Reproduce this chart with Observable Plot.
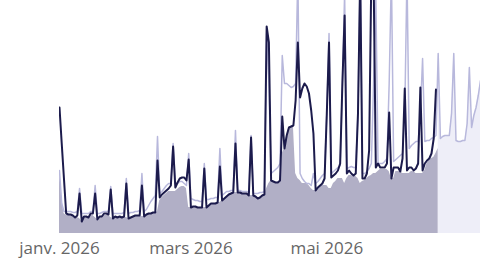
<!DOCTYPE html>
<html><head><meta charset="utf-8">
<script src="https://cdn.jsdelivr.net/npm/d3@7"></script>
<script src="https://cdn.jsdelivr.net/npm/@observablehq/plot@0.6"></script>
<style>body{margin:0;background:#fff}</style>
</head><body><div id="chart"></div>
<script>
const startDate = "2026-01-01";
const lastActualIndex = 170;
// daily values, current period (dark line)
const current = [126,90,55,20,19,19,18,16,18,
40,12,17,17,16,20,20,
40,14,17,17,20,20,19,
44,15,17,16,17,16,17,
50,15,16,17,18,18,18,
48,17,19,20,20,21,21,
73,36,39,41,43,45,48,
87,46,51,55,56,56,53,
74,26,27,27,26,26,26,
65,26,28,30,30,30,31,
67,33,35,37,39,40,41,
90,41,41,40,40,40,38,
96,38,37,35,36,38,39,
207,191,53,52,51,51,53,
117,85,98,106,107,108,133,
191,136,145,150,147,140,123,
100,43,46,48,50,55,120,
191,56,58,60,63,70,150,
218,60,63,60,58,60,120,
260,55,55,60,83,260,260,
66,70,66,66,66,70,
121,55,66,66,66,62,75,
145,63,66,66,63,65,70,
146,63,70,73,75,80,95,
144];
// daily values, comparison period (light line)
const previous = [63,30,22,22,22,22,21,21,22,
45,20,20,20,20,22,22,
48,20,20,21,22,22,22,
47,20,20,20,20,20,21,
55,20,21,21,22,22,23,
60,22,24,28,32,35,38,
97,40,42,45,48,50,50,
90,50,50,52,52,50,48,
80,35,34,33,33,32,32,
70,34,34,35,35,36,36,
85,38,40,42,42,43,43,
103,43,43,42,42,42,41,
98,40,40,40,41,41,42,
200,150,60,62,64,66,70,
178,150,150,148,146,147,150,
260,60,55,52,50,50,48,
60,50,52,55,58,60,120,
200,60,62,64,66,68,150,
240,65,66,67,66,66,120,
260,60,60,62,65,70,150,
240,70,70,70,72,75,150,
260,72,74,76,78,80,120,
260,85,88,90,92,92,120,
175,92,93,93,95,96,98,
180,95,97,98,98,98,120,
180,93,92,92,93,93,110,
166,106,118,126,138,153];
// daily baseline (grey filled area)
const baseline = [63,35,20,18,18,18,17,16,16,
15,12,16,16,16,18,18,
16,14,16,16,18,18,18,
16,15,16,16,16,16,16,
16,15,16,16,17,17,17,
17,17,18,19,20,20,20,
22,33,36,38,40,42,42,
42,42,44,46,47,47,45,
26,26,26,26,26,26,26,
26,26,28,30,30,30,31,
31,33,35,37,39,40,41,
41,41,41,40,40,40,38,
38,38,37,35,36,38,39,
45,50,53,52,51,51,53,
80,85,98,106,107,108,60,
55,53,50,50,50,48,45,
43,43,46,48,48,48,48,
45,45,50,52,55,55,55,
50,55,58,58,57,57,55,
50,52,53,55,57,58,60,
60,62,64,64,64,64,62,
55,55,62,62,62,60,60,
60,60,62,62,60,60,60,
60,63,70,73,75,76,80,
85];
const tickDates = ["2026-01-01","2026-03-01","2026-05-01"];
const tickLabels = ["janv. 2026","mars 2026","mai 2026"];

const day = i => d3.utcDay.offset(new Date(startDate), i);
const cur = current.map((v,i)=>({date:day(i), v}));
const prev = previous.map((v,i)=>({date:day(i), v}));
const base = baseline.map((v,i)=>({date:day(i), v}));
const forecast = prev.filter((d,i)=> i >= lastActualIndex);
const labelOf = new Map(tickDates.map((d,i)=>[+new Date(d), tickLabels[i]]));

const chart = Plot.plot({
  width: 496, height: 265,
  marginLeft: 59, marginRight: 16, marginTop: 0, marginBottom: 32,
  style: {fontFamily: "'Open Sans', sans-serif", fontSize: "17px", color: "#666", background: "#fff"},
  x: {type: "utc", domain: [new Date("2026-01-01"), new Date("2026-07-09")], ticks: tickDates.map(d=>new Date(d)), tickFormat: d => labelOf.get(+d), tickSize: 0, tickPadding: 8, label: null},
  y: {domain: [0, 233], axis: null},
  marks: [
    Plot.areaY(forecast, {x: "date", y: "v", fill: "#eeeef8", clip: true}),
    Plot.areaY(base, {x: "date", y: "v", fill: "#b1afc6", clip: true}),
    Plot.lineY(prev, {x: "date", y: "v", stroke: "#b8b8dc", strokeWidth: 1.5, clip: true}),
    Plot.lineY(cur, {x: "date", y: "v", stroke: "#1c1b4c", strokeWidth: 2, clip: true})
  ]
});
document.getElementById("chart").appendChild(chart);
</script>
</body></html>
